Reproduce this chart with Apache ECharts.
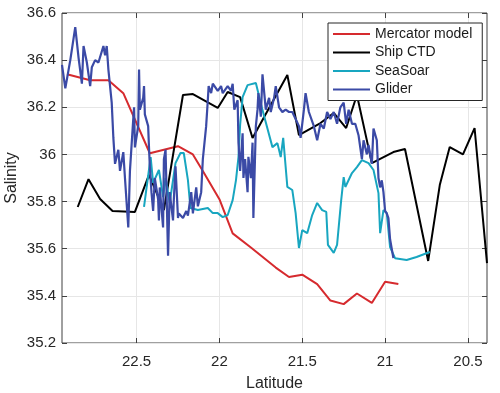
<!DOCTYPE html>
<html>
<head>
<meta charset="utf-8">
<script src="https://cdn.jsdelivr.net/npm/echarts@6/dist/echarts.min.js"></script>
<style>
  html, body { margin: 0; padding: 0; background: #fff; }
  #chart { width: 500px; height: 393px; }
</style>
</head>
<body>
<div id="chart"></div>
<script>
// latitude (deg N) and salinity for each source
const mercatorLat = [22.92, 22.78, 22.67, 22.58, 22.42, 22.25, 22.16, 22.1, 22.0, 21.92, 21.81, 21.66, 21.58, 21.5, 21.41, 21.33, 21.25, 21.17, 21.08, 21.0, 20.92];
const mercatorSal = [36.34, 36.315, 36.315, 36.26, 36.005, 36.035, 36.0, 35.93, 35.81, 35.665, 35.605, 35.52, 35.48, 35.49, 35.45, 35.38, 35.365, 35.41, 35.37, 35.46, 35.45];

const shipLat = [22.855, 22.79, 22.72, 22.645, 22.51, 22.425, 22.335, 22.22, 22.16, 22.01, 21.95, 21.875, 21.8, 21.59, 21.52, 21.39, 21.31, 21.235, 21.17, 21.08, 20.95, 20.88, 20.74, 20.67, 20.61, 20.53, 20.46, 20.385];
const shipSal = [35.777, 35.895, 35.811, 35.76, 35.756, 35.913, 35.764, 36.252, 36.256, 36.197, 36.265, 36.243, 36.07, 36.337, 36.082, 36.133, 36.176, 36.112, 36.252, 35.963, 36.01, 36.023, 35.548, 35.87, 36.031, 36.0, 36.112, 35.539];

const seasoarLat = [22.455, 22.415, 22.4, 22.365, 22.34, 22.325, 22.3, 22.265, 22.235, 22.215, 22.19, 22.175, 22.13, 22.07, 22.04, 22.01, 21.98, 21.95, 21.92, 21.9, 21.885, 21.875, 21.86, 21.83, 21.78, 21.74, 21.68, 21.65, 21.63, 21.615, 21.59, 21.56, 21.54, 21.52, 21.5, 21.47, 21.44, 21.41, 21.38, 21.355, 21.345, 21.31, 21.29, 21.265, 21.25, 21.24, 21.2, 21.17, 21.14, 21.1, 21.07, 21.04, 21.03, 21.01, 20.99, 20.97, 20.94, 20.87, 20.81, 20.73];
const seasoarSal = [35.777, 35.989, 35.879, 35.934, 35.819, 35.9, 35.794, 35.963, 36.006, 36.006, 35.891, 35.773, 35.764, 35.773, 35.751, 35.751, 35.734, 35.743, 35.806, 35.891, 35.989, 36.125, 36.243, 36.294, 36.303, 36.188, 36.031, 36.048, 35.989, 36.07, 35.862, 35.849, 35.751, 35.603, 35.679, 35.666, 35.743, 35.794, 35.764, 35.756, 35.616, 35.582, 35.616, 35.806, 35.904, 35.862, 35.921, 35.946, 35.976, 35.963, 35.934, 35.836, 35.666, 35.764, 35.751, 35.607, 35.56, 35.552, 35.565, 35.586];

const gliderLat = [22.95, 22.93, 22.9, 22.87, 22.85, 22.83, 22.82, 22.8, 22.78, 22.77, 22.75, 22.73, 22.7, 22.69, 22.68, 22.67, 22.65, 22.64, 22.63, 22.61, 22.6, 22.58, 22.57, 22.55, 22.54, 22.52, 22.515, 22.51, 22.49, 22.485, 22.48, 22.46, 22.455, 22.45, 22.43, 22.425, 22.42, 22.41, 22.4, 22.39, 22.37, 22.365, 22.36, 22.34, 22.335, 22.325, 22.31, 22.3, 22.28, 22.275, 22.265, 22.25, 22.245, 22.22, 22.2, 22.19, 22.17, 22.16, 22.14, 22.13, 22.11, 22.1, 22.08, 22.07, 22.065, 22.05, 22.04, 22.01, 21.99, 21.98, 21.95, 21.93, 21.92, 21.91, 21.89, 21.885, 21.875, 21.86, 21.855, 21.845, 21.83, 21.825, 21.81, 21.8, 21.795, 21.78, 21.77, 21.765, 21.75, 21.74, 21.72, 21.7, 21.69, 21.67, 21.66, 21.64, 21.62, 21.6, 21.58, 21.56, 21.54, 21.52, 21.51, 21.49, 21.48, 21.46, 21.43, 21.41, 21.39, 21.37, 21.35, 21.33, 21.31, 21.29, 21.27, 21.25, 21.235, 21.22, 21.2, 21.18, 21.16, 21.14, 21.13, 21.11, 21.1, 21.08, 21.07, 21.05, 21.04, 21.03, 21.02, 21.01, 21.0, 20.99, 20.98, 20.97, 20.96, 20.95];
const gliderSal = [36.38, 36.28, 36.4, 36.54, 36.41, 36.3, 36.46, 36.39, 36.29, 36.37, 36.4, 36.39, 36.46, 36.42, 36.46, 36.36, 36.22, 36.07, 35.96, 36.02, 35.93, 36.01, 35.9, 35.69, 35.93, 36.15, 36.2, 36.03, 36.12, 36.36, 36.19, 36.24, 36.29, 36.17, 36.12, 36.03, 35.95, 35.84, 35.76, 35.9, 35.81, 35.72, 35.86, 35.69, 35.98, 36.02, 35.57, 35.84, 35.72, 35.81, 35.95, 35.73, 35.75, 35.73, 35.76, 35.74, 35.84, 35.75, 35.86, 35.78, 35.84, 35.98, 36.12, 36.23, 36.29, 36.26, 36.3, 36.27, 36.29, 36.26, 36.29, 36.27, 36.3, 36.19, 36.23, 36.05, 35.93, 36.09, 35.9, 35.98, 35.84, 35.99, 35.9, 36.05, 35.73, 36.12, 36.19, 36.26, 36.16, 36.34, 36.19, 36.24, 36.18, 36.24, 36.29, 36.2, 36.18, 36.19, 36.18, 36.18, 36.15, 36.12, 36.07, 36.19, 36.26, 36.18, 36.12, 36.06, 36.13, 36.11, 36.18, 36.15, 36.18, 36.13, 36.2, 36.22, 36.13, 36.19, 36.13, 36.13, 36.08, 35.98, 36.06, 36.0, 36.04, 35.96, 36.11, 36.06, 35.9, 35.86, 35.89, 35.84, 35.76, 35.75, 35.73, 35.64, 35.6, 35.56];

const latTicks = [20.5, 21, 21.5, 22, 22.5];

const zip = (a, b) => a.map((v, i) => [v, b[i]]);

const chart = echarts.init(document.getElementById('chart'));
const font = 'Liberation Sans, Arial, Helvetica, sans-serif';
const axisCol = '#404040';

const xBase = {
  type: 'value',
  min: 20.385,
  max: 22.95,
  inverse: true,
  splitNumber: 5,
};
const yBase = {
  type: 'value',
  min: 35.2,
  max: 36.6,
  interval: 0.2,
};

chart.setOption({
  animation: false,
  textStyle: { fontFamily: font },
  grid: {
    left: 62, right: 13, top: 13, bottom: 50,
    outerBoundsMode: 'none',
    containLabel: false,
    show: true, borderColor: axisCol, borderWidth: 1, backgroundColor: '#fff',
  },
  legend: {
    orient: 'vertical',
    left: 328,
    top: 23,
    padding: [3, 10, 3, 5],
    itemGap: 2.5,
    itemWidth: 37,
    itemHeight: 2,
    icon: 'rect',
    backgroundColor: '#fff',
    borderColor: '#262626',
    borderWidth: 1,
    textStyle: { fontSize: 14, color: '#1a1a1a', lineHeight: 16, fontFamily: font },
    data: ['Mercator model', 'Ship CTD', 'SeaSoar', 'Glider'],
  },
  xAxis: [
    Object.assign({}, xBase, {
      position: 'bottom',
      name: 'Latitude',
      nameLocation: 'middle',
      nameGap: 33,
      nameMoveOverlap: false,
      nameTextStyle: { fontSize: 16, color: '#262626' },
      axisLine: { show: false },
      axisTick: { show: true, inside: true, length: 5, customValues: latTicks, lineStyle: { color: axisCol } },
      axisLabel: { fontSize: 15, color: '#262626', margin: 11, customValues: latTicks },
      splitLine: { show: true, lineStyle: { color: '#e6e6e6', width: 1 } },
    }),
    Object.assign({}, xBase, {
      position: 'top',
      axisLine: { show: false },
      axisTick: { show: true, inside: true, length: 5, customValues: latTicks, lineStyle: { color: axisCol } },
      axisLabel: { show: false },
      splitLine: { show: false },
    }),
  ],
  yAxis: [
    Object.assign({}, yBase, {
      position: 'left',
      name: 'Salinity',
      nameLocation: 'middle',
      nameGap: 42,
      nameMoveOverlap: false,
      nameTextStyle: { fontSize: 16, color: '#262626' },
      axisLine: { show: false },
      axisTick: { show: true, inside: true, length: 5, lineStyle: { color: axisCol } },
      axisLabel: { fontSize: 15, color: '#262626', margin: 6 },
      splitLine: { show: true, lineStyle: { color: '#e6e6e6', width: 1 } },
    }),
    Object.assign({}, yBase, {
      position: 'right',
      axisLine: { show: false },
      axisTick: { show: true, inside: true, length: 5, lineStyle: { color: axisCol } },
      axisLabel: { show: false },
      splitLine: { show: false },
    }),
  ],
  series: [
    {
      name: 'Mercator model',
      type: 'line',
      data: zip(mercatorLat, mercatorSal),
      showSymbol: false,
      symbol: 'none',
      lineStyle: { color: '#d62a2e', width: 2 },
      itemStyle: { color: '#d62a2e' },
    },
    {
      name: 'Ship CTD',
      type: 'line',
      data: zip(shipLat, shipSal),
      showSymbol: false,
      symbol: 'none',
      lineStyle: { color: '#000000', width: 2 },
      itemStyle: { color: '#000000' },
    },
    {
      name: 'SeaSoar',
      type: 'line',
      data: zip(seasoarLat, seasoarSal),
      showSymbol: false,
      symbol: 'none',
      lineStyle: { color: '#18a6c0', width: 2 },
      itemStyle: { color: '#18a6c0' },
    },
    {
      name: 'Glider',
      type: 'line',
      data: zip(gliderLat, gliderSal),
      showSymbol: false,
      symbol: 'none',
      lineStyle: { color: '#3b4aa6', width: 2.2 },
      itemStyle: { color: '#3b4aa6' },
    },
  ],
});
</script>
</body>
</html>
